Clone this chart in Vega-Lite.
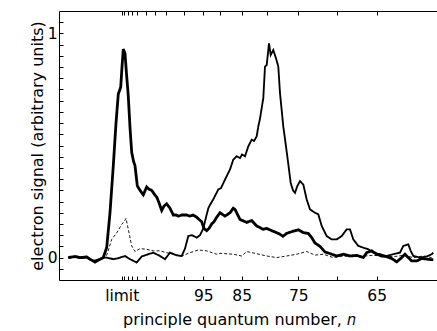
{
  "$schema": "https://vega.github.io/schema/vega-lite/v6.json",
  "width": 378,
  "height": 269,
  "autosize": {"type": "none"},
  "padding": {"left": 59, "top": 11, "right": 0, "bottom": 51},
  "background": "white",
  "config": {
    "view": {"stroke": null},
    "axis": {
      "labelFont": "DejaVu Sans", "titleFont": "DejaVu Sans",
      "labelColor": "black", "titleColor": "black",
      "domainColor": "black", "tickColor": "black",
      "grid": false, "titleFontWeight": "normal",
      "labelFontSize": 15.5, "titleFontSize": 16,
      "tickSize": -4, "domainWidth": 1, "tickWidth": 1
    }
  },
  "data": {"values": [
    {"s":"B","x":-53.4,"y":0},{"s":"B","x":-46.7,"y":0.003},{"s":"B","x":-41.7,"y":-0.002},{"s":"B","x":-35,"y":0},{"s":"B","x":-28.4,"y":-0.015},{"s":"B","x":-22.7,"y":-0.008},{"s":"B","x":-18.4,"y":0},{"s":"B","x":-15,"y":0},{"s":"B","x":-8.4,"y":-0.007},{"s":"B","x":-3.7,"y":-0.003},{"s":"B","x":3.3,"y":0.007},{"s":"B","x":8.3,"y":-0.007},{"s":"B","x":15,"y":-0.022},{"s":"B","x":20,"y":0.005},{"s":"B","x":26.6,"y":0.015},{"s":"B","x":31.6,"y":0.022},{"s":"B","x":38.3,"y":0.007},{"s":"B","x":43.3,"y":-0.007},{"s":"B","x":48.3,"y":0.022},{"s":"B","x":55,"y":0.01},{"s":"B","x":60,"y":0.007},{"s":"B","x":63.3,"y":0.04},{"s":"B","x":66.6,"y":0.096},{"s":"B","x":70.3,"y":0.1},{"s":"B","x":75,"y":0.089},{"s":"B","x":78.3,"y":0.1},{"s":"B","x":81.6,"y":0.13},{"s":"B","x":84.3,"y":0.18},{"s":"B","x":86.6,"y":0.22},{"s":"B","x":88.3,"y":0.235},{"s":"B","x":91.6,"y":0.26},{"s":"B","x":96.6,"y":0.304},{"s":"B","x":99.3,"y":0.31},{"s":"B","x":103.3,"y":0.348},{"s":"B","x":108.3,"y":0.393},{"s":"B","x":111.6,"y":0.437},{"s":"B","x":115,"y":0.452},{"s":"B","x":118.3,"y":0.444},{"s":"B","x":120.3,"y":0.46},{"s":"B","x":123.3,"y":0.452},{"s":"B","x":126.6,"y":0.496},{"s":"B","x":130,"y":0.526},{"s":"B","x":132.3,"y":0.52},{"s":"B","x":135,"y":0.541},{"s":"B","x":136.6,"y":0.585},{"s":"B","x":138.3,"y":0.62},{"s":"B","x":140,"y":0.667},{"s":"B","x":141.6,"y":0.711},{"s":"B","x":143.3,"y":0.852},{"s":"B","x":145,"y":0.859},{"s":"B","x":147.3,"y":0.956},{"s":"B","x":149,"y":0.904},{"s":"B","x":151.6,"y":0.926},{"s":"B","x":154.3,"y":0.889},{"s":"B","x":156.6,"y":0.852},{"s":"B","x":158.3,"y":0.733},{"s":"B","x":161.6,"y":0.585},{"s":"B","x":165.6,"y":0.452},{"s":"B","x":169,"y":0.333},{"s":"B","x":171.3,"y":0.3},{"s":"B","x":173.3,"y":0.289},{"s":"B","x":175.6,"y":0.319},{"s":"B","x":178.3,"y":0.341},{"s":"B","x":181.6,"y":0.326},{"s":"B","x":185,"y":0.259},{"s":"B","x":188.3,"y":0.215},{"s":"B","x":193.3,"y":0.2},{"s":"B","x":196.6,"y":0.193},{"s":"B","x":200,"y":0.141},{"s":"B","x":205,"y":0.096},{"s":"B","x":210,"y":0.081},{"s":"B","x":215,"y":0.081},{"s":"B","x":220,"y":0.096},{"s":"B","x":225,"y":0.126},{"s":"B","x":228.3,"y":0.126},{"s":"B","x":231.6,"y":0.081},{"s":"B","x":236.6,"y":0.052},{"s":"B","x":241.6,"y":0.044},{"s":"B","x":246.6,"y":0.037},{"s":"B","x":251.6,"y":0.022},{"s":"B","x":258.3,"y":0.015},{"s":"B","x":265,"y":0.007},{"s":"B","x":271.6,"y":0.015},{"s":"B","x":278.3,"y":0.022},{"s":"B","x":281.6,"y":0.052},{"s":"B","x":286.6,"y":0.059},{"s":"B","x":289,"y":0.03},{"s":"B","x":291.6,"y":0.007},{"s":"B","x":298.3,"y":0},{"s":"B","x":305,"y":0.005},{"s":"B","x":310,"y":0.015},{"s":"B","x":311.6,"y":0.022},
    {"s":"C","x":-53.4,"y":0},{"s":"C","x":-41.7,"y":0},{"s":"C","x":-35,"y":0.002},{"s":"C","x":-26.7,"y":-0.015},{"s":"C","x":-18.4,"y":0},{"s":"C","x":-15,"y":0.01},{"s":"C","x":-10,"y":0.081},{"s":"C","x":-5,"y":0.11},{"s":"C","x":0,"y":0.148},{"s":"C","x":2.3,"y":0.16},{"s":"C","x":4.3,"y":0.175},{"s":"C","x":6.6,"y":0.126},{"s":"C","x":10,"y":0.052},{"s":"C","x":13.3,"y":0.027},{"s":"C","x":18.3,"y":0.04},{"s":"C","x":25,"y":0.037},{"s":"C","x":31.6,"y":0.03},{"s":"C","x":38.3,"y":0.03},{"s":"C","x":45,"y":0.022},{"s":"C","x":51.6,"y":0.015},{"s":"C","x":60,"y":0.007},{"s":"C","x":68.3,"y":0.022},{"s":"C","x":76.6,"y":0.034},{"s":"C","x":85,"y":0.03},{"s":"C","x":95,"y":0.015},{"s":"C","x":98.3,"y":0.019},{"s":"C","x":111.6,"y":0.015},{"s":"C","x":120,"y":0.007},{"s":"C","x":125,"y":0.027},{"s":"C","x":133.3,"y":0.019},{"s":"C","x":145,"y":0.007},{"s":"C","x":155,"y":0},{"s":"C","x":165,"y":0.007},{"s":"C","x":175,"y":0.015},{"s":"C","x":185,"y":0.027},{"s":"C","x":193.3,"y":0.011},{"s":"C","x":201.6,"y":0.015},{"s":"C","x":211.6,"y":0},{"s":"C","x":221.6,"y":0.007},{"s":"C","x":231.6,"y":0.004},{"s":"C","x":241.6,"y":0.007},{"s":"C","x":251.6,"y":0.01},{"s":"C","x":261.6,"y":0.007},{"s":"C","x":271.6,"y":0.004},{"s":"C","x":281.6,"y":0.01},{"s":"C","x":291.6,"y":0},{"s":"C","x":301.6,"y":0.007},{"s":"C","x":310,"y":0},
    {"s":"A","x":-53.4,"y":0},{"s":"A","x":-46.7,"y":0.005},{"s":"A","x":-41.7,"y":0},{"s":"A","x":-35,"y":0.003},{"s":"A","x":-30.7,"y":-0.01},{"s":"A","x":-26.7,"y":-0.02},{"s":"A","x":-22.7,"y":-0.01},{"s":"A","x":-18.4,"y":0},{"s":"A","x":-15,"y":0.045},{"s":"A","x":-11.7,"y":0.2},{"s":"A","x":-8.4,"y":0.41},{"s":"A","x":-5.7,"y":0.6},{"s":"A","x":-3.4,"y":0.73},{"s":"A","x":-1,"y":0.76},{"s":"A","x":0.3,"y":0.85},{"s":"A","x":1.6,"y":0.93},{"s":"A","x":3.3,"y":0.91},{"s":"A","x":4.8,"y":0.82},{"s":"A","x":6.6,"y":0.72},{"s":"A","x":8.3,"y":0.58},{"s":"A","x":10,"y":0.47},{"s":"A","x":11.8,"y":0.43},{"s":"A","x":13.3,"y":0.41},{"s":"A","x":15.6,"y":0.32},{"s":"A","x":18.3,"y":0.3},{"s":"A","x":21.6,"y":0.28},{"s":"A","x":25,"y":0.315},{"s":"A","x":27.3,"y":0.305},{"s":"A","x":30,"y":0.3},{"s":"A","x":32.3,"y":0.285},{"s":"A","x":35,"y":0.27},{"s":"A","x":37.3,"y":0.245},{"s":"A","x":40,"y":0.21},{"s":"A","x":42.3,"y":0.23},{"s":"A","x":45,"y":0.24},{"s":"A","x":48.3,"y":0.22},{"s":"A","x":51.6,"y":0.19},{"s":"A","x":54.3,"y":0.19},{"s":"A","x":56.6,"y":0.185},{"s":"A","x":60.3,"y":0.19},{"s":"A","x":65,"y":0.19},{"s":"A","x":68.3,"y":0.185},{"s":"A","x":71.3,"y":0.19},{"s":"A","x":75,"y":0.18},{"s":"A","x":77.3,"y":0.17},{"s":"A","x":80,"y":0.16},{"s":"A","x":82.3,"y":0.13},{"s":"A","x":85,"y":0.12},{"s":"A","x":87.3,"y":0.13},{"s":"A","x":90,"y":0.15},{"s":"A","x":92.3,"y":0.16},{"s":"A","x":95,"y":0.18},{"s":"A","x":98.3,"y":0.2},{"s":"A","x":103.3,"y":0.185},{"s":"A","x":108.3,"y":0.2},{"s":"A","x":111.6,"y":0.22},{"s":"A","x":113.3,"y":0.215},{"s":"A","x":118.3,"y":0.17},{"s":"A","x":125,"y":0.157},{"s":"A","x":130,"y":0.165},{"s":"A","x":135,"y":0.141},{"s":"A","x":141.6,"y":0.126},{"s":"A","x":145,"y":0.13},{"s":"A","x":150,"y":0.12},{"s":"A","x":155,"y":0.111},{"s":"A","x":158.3,"y":0.104},{"s":"A","x":161.3,"y":0.095},{"s":"A","x":165,"y":0.108},{"s":"A","x":171.6,"y":0.118},{"s":"A","x":176.6,"y":0.124},{"s":"A","x":181.6,"y":0.111},{"s":"A","x":186.6,"y":0.108},{"s":"A","x":190,"y":0.089},{"s":"A","x":193.3,"y":0.065},{"s":"A","x":198.3,"y":0.05},{"s":"A","x":203.3,"y":0.025},{"s":"A","x":210,"y":0.015},{"s":"A","x":215,"y":0.007},{"s":"A","x":221.6,"y":0.015},{"s":"A","x":228.3,"y":0.007},{"s":"A","x":235,"y":0.01},{"s":"A","x":241.6,"y":0},{"s":"A","x":245,"y":0.022},{"s":"A","x":250,"y":0.03},{"s":"A","x":255,"y":0.015},{"s":"A","x":260,"y":0.007},{"s":"A","x":265,"y":0.004},{"s":"A","x":270,"y":-0.004},{"s":"A","x":275,"y":-0.019},{"s":"A","x":280,"y":0},{"s":"A","x":283.3,"y":0.015},{"s":"A","x":286.6,"y":0},{"s":"A","x":290,"y":-0.015},{"s":"A","x":295,"y":-0.015},{"s":"A","x":300,"y":-0.004},{"s":"A","x":305,"y":-0.007},{"s":"A","x":311.6,"y":-0.01}
  ]},
  "layer": [
    {
      "mark": {"type": "line", "color": "black"},
      "encoding": {
        "x": {"field": "x", "type": "quantitative",
          "scale": {"domain": [-62.7, 315.3], "nice": false, "zero": false},
          "axis": {"orient": "bottom",
            "values": [0, 2.3, 6.6, 10, 15, 24, 33.3, 44, 62.3, 81.6, 98.3, 120, 145.6, 176.6, 215, 255],
            "labelExpr": "datum.value === 0 ? 'limit' : datum.value === 81.6 ? '95' : datum.value === 120 ? '85' : datum.value === 176.6 ? '75' : datum.value === 255 ? '65' : ''",
            "labelPadding": 12, "labelFlush": false, "labelOverlap": false,
            "title": "principle quantum number, 𝑛", "titlePadding": 8, "titleX": 180}},
        "y": {"field": "y", "type": "quantitative",
          "scale": {"domain": [-0.1, 1.1], "nice": false, "zero": false},
          "axis": {"values": [-0.05, 0, 0.05, 0.1, 0.15, 0.2, 0.25, 0.3, 0.35, 0.4, 0.45, 0.5, 0.55, 0.6, 0.65, 0.7, 0.75, 0.8, 0.85, 0.9, 0.95, 1, 1.05],
            "labelExpr": "datum.value === 0 ? '0' : datum.value === 1 ? '1' : ''",
            "labelPadding": 6, "labelOverlap": false,
            "title": "electron signal (arbitrary units)", "titlePadding": 2}},
        "detail": {"field": "s"},
        "strokeWidth": {"field": "s", "type": "nominal", "scale": {"domain": ["A", "B", "C"], "range": [2.8, 0.9, 0.9]}, "legend": null},
        "strokeDash": {"field": "s", "type": "nominal", "scale": {"domain": ["A", "B", "C"], "range": [[1, 0], [1, 0], [3, 2]]}, "legend": null}
      }
    },
    {
      "data": {"values": [{"x": 0}]},
      "mark": {"type": "rule", "opacity": 0},
      "encoding": {
        "x": {"field": "x", "type": "quantitative",
          "scale": {"domain": [-62.7, 315.3], "nice": false, "zero": false},
          "axis": {"orient": "top",
            "values": [0, 2.3, 6.6, 10, 15, 24, 33.3, 44, 62.3, 81.6, 98.3, 120, 145.6, 176.6, 215, 255],
            "labels": false, "title": null}}
      }
    }
  ],
  "resolve": {"axis": {"x": "independent"}}
}
